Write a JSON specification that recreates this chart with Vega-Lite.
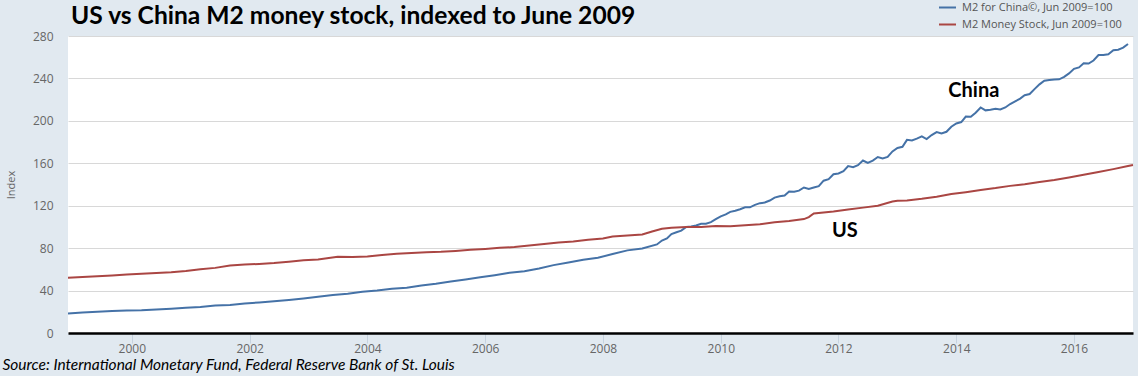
{
  "$schema": "https://vega.github.io/schema/vega-lite/v6.json",
  "width": 1065,
  "height": 297,
  "autosize": {"type": "none"},
  "padding": {"left": 68, "top": 36, "right": 5, "bottom": 43},
  "background": "#e1e9f0",
  "title": {
    "text": "US vs China M2 money stock, indexed to June 2009",
    "anchor": "start",
    "frame": "group",
    "font": "Lato",
    "fontSize": 24.6,
    "fontWeight": "bold",
    "color": "#000000",
    "offset": 4,
    "dx": 3,
    "dy": 36
  },
  "config": {
    "view": {"fill": "#ffffff", "stroke": null}
  },
  "datasets": {
    "m2": [
      {"d": "1998-12-01T00:00", "v": 18.4, "s": "China"},
      {"d": "1999-03-01T00:00", "v": 19.3, "s": "China"},
      {"d": "1999-06-01T00:00", "v": 20.0, "s": "China"},
      {"d": "1999-09-01T00:00", "v": 20.7, "s": "China"},
      {"d": "1999-12-01T00:00", "v": 21.1, "s": "China"},
      {"d": "2000-03-01T00:00", "v": 21.4, "s": "China"},
      {"d": "2000-06-01T00:00", "v": 22.2, "s": "China"},
      {"d": "2000-09-01T00:00", "v": 22.9, "s": "China"},
      {"d": "2000-12-01T00:00", "v": 23.7, "s": "China"},
      {"d": "2001-03-01T00:00", "v": 24.6, "s": "China"},
      {"d": "2001-06-01T00:00", "v": 26.0, "s": "China"},
      {"d": "2001-09-01T00:00", "v": 26.5, "s": "China"},
      {"d": "2001-12-01T00:00", "v": 27.8, "s": "China"},
      {"d": "2002-03-01T00:00", "v": 28.8, "s": "China"},
      {"d": "2002-06-01T00:00", "v": 29.9, "s": "China"},
      {"d": "2002-09-01T00:00", "v": 31.1, "s": "China"},
      {"d": "2002-12-01T00:00", "v": 32.5, "s": "China"},
      {"d": "2003-03-01T00:00", "v": 34.1, "s": "China"},
      {"d": "2003-06-01T00:00", "v": 35.9, "s": "China"},
      {"d": "2003-09-01T00:00", "v": 36.9, "s": "China"},
      {"d": "2003-12-01T00:00", "v": 38.9, "s": "China"},
      {"d": "2004-03-01T00:00", "v": 40.1, "s": "China"},
      {"d": "2004-06-01T00:00", "v": 41.8, "s": "China"},
      {"d": "2004-09-01T00:00", "v": 42.7, "s": "China"},
      {"d": "2004-12-01T00:00", "v": 44.7, "s": "China"},
      {"d": "2005-03-01T00:00", "v": 46.4, "s": "China"},
      {"d": "2005-06-01T00:00", "v": 48.5, "s": "China"},
      {"d": "2005-09-01T00:00", "v": 50.5, "s": "China"},
      {"d": "2005-12-01T00:00", "v": 52.5, "s": "China"},
      {"d": "2006-03-01T00:00", "v": 54.5, "s": "China"},
      {"d": "2006-06-01T00:00", "v": 56.8, "s": "China"},
      {"d": "2006-09-01T00:00", "v": 58.2, "s": "China"},
      {"d": "2006-12-01T00:00", "v": 60.8, "s": "China"},
      {"d": "2007-03-01T00:00", "v": 64.0, "s": "China"},
      {"d": "2007-06-01T00:00", "v": 66.4, "s": "China"},
      {"d": "2007-09-01T00:00", "v": 69.1, "s": "China"},
      {"d": "2007-12-01T00:00", "v": 70.9, "s": "China"},
      {"d": "2008-03-01T00:00", "v": 74.4, "s": "China"},
      {"d": "2008-06-01T00:00", "v": 77.9, "s": "China"},
      {"d": "2008-09-01T00:00", "v": 79.6, "s": "China"},
      {"d": "2008-12-01T00:00", "v": 83.5, "s": "China"},
      {"d": "2009-01-01T00:00", "v": 87.2, "s": "China"},
      {"d": "2009-02-01T00:00", "v": 89.1, "s": "China"},
      {"d": "2009-03-01T00:00", "v": 93.3, "s": "China"},
      {"d": "2009-04-01T00:00", "v": 95.0, "s": "China"},
      {"d": "2009-05-01T00:00", "v": 96.5, "s": "China"},
      {"d": "2009-06-01T00:00", "v": 100.0, "s": "China"},
      {"d": "2009-07-01T00:00", "v": 100.4, "s": "China"},
      {"d": "2009-08-01T00:00", "v": 101.3, "s": "China"},
      {"d": "2009-09-01T00:00", "v": 102.9, "s": "China"},
      {"d": "2009-10-01T00:00", "v": 103.0, "s": "China"},
      {"d": "2009-11-01T00:00", "v": 104.5, "s": "China"},
      {"d": "2009-12-01T00:00", "v": 107.3, "s": "China"},
      {"d": "2010-01-01T00:00", "v": 109.9, "s": "China"},
      {"d": "2010-02-01T00:00", "v": 111.8, "s": "China"},
      {"d": "2010-03-01T00:00", "v": 114.2, "s": "China"},
      {"d": "2010-04-01T00:00", "v": 115.3, "s": "China"},
      {"d": "2010-05-01T00:00", "v": 116.7, "s": "China"},
      {"d": "2010-06-01T00:00", "v": 118.5, "s": "China"},
      {"d": "2010-07-01T00:00", "v": 118.5, "s": "China"},
      {"d": "2010-08-01T00:00", "v": 120.8, "s": "China"},
      {"d": "2010-09-01T00:00", "v": 122.4, "s": "China"},
      {"d": "2010-10-01T00:00", "v": 123.0, "s": "China"},
      {"d": "2010-11-01T00:00", "v": 124.9, "s": "China"},
      {"d": "2010-12-01T00:00", "v": 127.6, "s": "China"},
      {"d": "2011-01-01T00:00", "v": 128.9, "s": "China"},
      {"d": "2011-02-01T00:00", "v": 129.6, "s": "China"},
      {"d": "2011-03-01T00:00", "v": 133.3, "s": "China"},
      {"d": "2011-04-01T00:00", "v": 133.2, "s": "China"},
      {"d": "2011-05-01T00:00", "v": 134.2, "s": "China"},
      {"d": "2011-06-01T00:00", "v": 137.2, "s": "China"},
      {"d": "2011-07-01T00:00", "v": 135.9, "s": "China"},
      {"d": "2011-08-01T00:00", "v": 137.2, "s": "China"},
      {"d": "2011-09-01T00:00", "v": 138.4, "s": "China"},
      {"d": "2011-10-01T00:00", "v": 143.6, "s": "China"},
      {"d": "2011-11-01T00:00", "v": 145.1, "s": "China"},
      {"d": "2011-12-01T00:00", "v": 149.7, "s": "China"},
      {"d": "2012-01-01T00:00", "v": 150.4, "s": "China"},
      {"d": "2012-02-01T00:00", "v": 152.5, "s": "China"},
      {"d": "2012-03-01T00:00", "v": 157.4, "s": "China"},
      {"d": "2012-04-01T00:00", "v": 156.4, "s": "China"},
      {"d": "2012-05-01T00:00", "v": 158.2, "s": "China"},
      {"d": "2012-06-01T00:00", "v": 162.6, "s": "China"},
      {"d": "2012-07-01T00:00", "v": 160.3, "s": "China"},
      {"d": "2012-08-01T00:00", "v": 162.6, "s": "China"},
      {"d": "2012-09-01T00:00", "v": 165.9, "s": "China"},
      {"d": "2012-10-01T00:00", "v": 164.6, "s": "China"},
      {"d": "2012-11-01T00:00", "v": 166.0, "s": "China"},
      {"d": "2012-12-01T00:00", "v": 171.2, "s": "China"},
      {"d": "2013-01-01T00:00", "v": 174.4, "s": "China"},
      {"d": "2013-02-01T00:00", "v": 175.5, "s": "China"},
      {"d": "2013-03-01T00:00", "v": 182.1, "s": "China"},
      {"d": "2013-04-01T00:00", "v": 181.5, "s": "China"},
      {"d": "2013-05-01T00:00", "v": 183.2, "s": "China"},
      {"d": "2013-06-01T00:00", "v": 185.4, "s": "China"},
      {"d": "2013-07-01T00:00", "v": 182.8, "s": "China"},
      {"d": "2013-08-01T00:00", "v": 186.6, "s": "China"},
      {"d": "2013-09-01T00:00", "v": 189.4, "s": "China"},
      {"d": "2013-10-01T00:00", "v": 188.1, "s": "China"},
      {"d": "2013-11-01T00:00", "v": 189.7, "s": "China"},
      {"d": "2013-12-01T00:00", "v": 194.5, "s": "China"},
      {"d": "2014-01-01T00:00", "v": 197.5, "s": "China"},
      {"d": "2014-02-01T00:00", "v": 198.9, "s": "China"},
      {"d": "2014-03-01T00:00", "v": 204.0, "s": "China"},
      {"d": "2014-04-01T00:00", "v": 203.9, "s": "China"},
      {"d": "2014-05-01T00:00", "v": 207.7, "s": "China"},
      {"d": "2014-06-01T00:00", "v": 212.6, "s": "China"},
      {"d": "2014-07-01T00:00", "v": 209.9, "s": "China"},
      {"d": "2014-08-01T00:00", "v": 210.4, "s": "China"},
      {"d": "2014-09-01T00:00", "v": 211.3, "s": "China"},
      {"d": "2014-10-01T00:00", "v": 210.7, "s": "China"},
      {"d": "2014-11-01T00:00", "v": 212.6, "s": "China"},
      {"d": "2014-12-01T00:00", "v": 215.9, "s": "China"},
      {"d": "2015-01-01T00:00", "v": 218.4, "s": "China"},
      {"d": "2015-02-01T00:00", "v": 221.0, "s": "China"},
      {"d": "2015-03-01T00:00", "v": 224.2, "s": "China"},
      {"d": "2015-04-01T00:00", "v": 225.3, "s": "China"},
      {"d": "2015-05-01T00:00", "v": 229.9, "s": "China"},
      {"d": "2015-06-01T00:00", "v": 234.4, "s": "China"},
      {"d": "2015-07-01T00:00", "v": 237.8, "s": "China"},
      {"d": "2015-08-01T00:00", "v": 238.5, "s": "China"},
      {"d": "2015-09-01T00:00", "v": 239.0, "s": "China"},
      {"d": "2015-10-01T00:00", "v": 239.2, "s": "China"},
      {"d": "2015-11-01T00:00", "v": 241.5, "s": "China"},
      {"d": "2015-12-01T00:00", "v": 244.7, "s": "China"},
      {"d": "2016-01-01T00:00", "v": 249.0, "s": "China"},
      {"d": "2016-02-01T00:00", "v": 250.4, "s": "China"},
      {"d": "2016-03-01T00:00", "v": 254.2, "s": "China"},
      {"d": "2016-04-01T00:00", "v": 254.0, "s": "China"},
      {"d": "2016-05-01T00:00", "v": 256.9, "s": "China"},
      {"d": "2016-06-01T00:00", "v": 262.0, "s": "China"},
      {"d": "2016-07-01T00:00", "v": 262.2, "s": "China"},
      {"d": "2016-08-01T00:00", "v": 262.8, "s": "China"},
      {"d": "2016-09-01T00:00", "v": 266.5, "s": "China"},
      {"d": "2016-10-01T00:00", "v": 267.1, "s": "China"},
      {"d": "2016-11-01T00:00", "v": 269.0, "s": "China"},
      {"d": "2016-12-01T00:00", "v": 272.5, "s": "China"},
      {"d": "1998-12-01T00:00", "v": 52.0, "s": "US"},
      {"d": "1999-03-01T00:00", "v": 52.7, "s": "US"},
      {"d": "1999-06-01T00:00", "v": 53.5, "s": "US"},
      {"d": "1999-09-01T00:00", "v": 54.2, "s": "US"},
      {"d": "1999-12-01T00:00", "v": 55.1, "s": "US"},
      {"d": "2000-03-01T00:00", "v": 55.8, "s": "US"},
      {"d": "2000-06-01T00:00", "v": 56.5, "s": "US"},
      {"d": "2000-09-01T00:00", "v": 57.3, "s": "US"},
      {"d": "2000-12-01T00:00", "v": 58.4, "s": "US"},
      {"d": "2001-03-01T00:00", "v": 60.0, "s": "US"},
      {"d": "2001-06-01T00:00", "v": 61.4, "s": "US"},
      {"d": "2001-09-01T00:00", "v": 63.6, "s": "US"},
      {"d": "2001-12-01T00:00", "v": 64.5, "s": "US"},
      {"d": "2002-03-01T00:00", "v": 65.1, "s": "US"},
      {"d": "2002-06-01T00:00", "v": 65.9, "s": "US"},
      {"d": "2002-09-01T00:00", "v": 67.2, "s": "US"},
      {"d": "2002-12-01T00:00", "v": 68.5, "s": "US"},
      {"d": "2003-03-01T00:00", "v": 69.4, "s": "US"},
      {"d": "2003-07-01T00:00", "v": 71.8, "s": "US"},
      {"d": "2003-10-01T00:00", "v": 71.7, "s": "US"},
      {"d": "2004-01-01T00:00", "v": 72.1, "s": "US"},
      {"d": "2004-04-01T00:00", "v": 73.6, "s": "US"},
      {"d": "2004-07-01T00:00", "v": 74.6, "s": "US"},
      {"d": "2004-10-01T00:00", "v": 75.4, "s": "US"},
      {"d": "2005-01-01T00:00", "v": 76.2, "s": "US"},
      {"d": "2005-04-01T00:00", "v": 76.5, "s": "US"},
      {"d": "2005-07-01T00:00", "v": 77.3, "s": "US"},
      {"d": "2005-10-01T00:00", "v": 78.4, "s": "US"},
      {"d": "2006-01-01T00:00", "v": 79.3, "s": "US"},
      {"d": "2006-04-01T00:00", "v": 80.3, "s": "US"},
      {"d": "2006-07-01T00:00", "v": 81.0, "s": "US"},
      {"d": "2006-10-01T00:00", "v": 82.4, "s": "US"},
      {"d": "2007-01-01T00:00", "v": 84.0, "s": "US"},
      {"d": "2007-04-01T00:00", "v": 85.3, "s": "US"},
      {"d": "2007-07-01T00:00", "v": 86.3, "s": "US"},
      {"d": "2007-10-01T00:00", "v": 87.8, "s": "US"},
      {"d": "2008-01-01T00:00", "v": 89.0, "s": "US"},
      {"d": "2008-03-01T00:00", "v": 91.0, "s": "US"},
      {"d": "2008-06-01T00:00", "v": 91.9, "s": "US"},
      {"d": "2008-09-01T00:00", "v": 92.8, "s": "US"},
      {"d": "2008-11-01T00:00", "v": 95.7, "s": "US"},
      {"d": "2009-01-01T00:00", "v": 98.3, "s": "US"},
      {"d": "2009-03-01T00:00", "v": 99.3, "s": "US"},
      {"d": "2009-06-01T00:00", "v": 100.0, "s": "US"},
      {"d": "2009-09-01T00:00", "v": 99.9, "s": "US"},
      {"d": "2009-12-01T00:00", "v": 100.9, "s": "US"},
      {"d": "2010-03-01T00:00", "v": 100.7, "s": "US"},
      {"d": "2010-06-01T00:00", "v": 101.6, "s": "US"},
      {"d": "2010-09-01T00:00", "v": 102.6, "s": "US"},
      {"d": "2010-12-01T00:00", "v": 104.4, "s": "US"},
      {"d": "2011-03-01T00:00", "v": 105.6, "s": "US"},
      {"d": "2011-06-01T00:00", "v": 107.4, "s": "US"},
      {"d": "2011-07-01T00:00", "v": 109.3, "s": "US"},
      {"d": "2011-08-01T00:00", "v": 112.7, "s": "US"},
      {"d": "2011-12-01T00:00", "v": 114.6, "s": "US"},
      {"d": "2012-03-01T00:00", "v": 116.5, "s": "US"},
      {"d": "2012-06-01T00:00", "v": 118.2, "s": "US"},
      {"d": "2012-09-01T00:00", "v": 120.0, "s": "US"},
      {"d": "2012-12-01T00:00", "v": 124.0, "s": "US"},
      {"d": "2013-01-01T00:00", "v": 124.7, "s": "US"},
      {"d": "2013-03-01T00:00", "v": 125.0, "s": "US"},
      {"d": "2013-06-01T00:00", "v": 126.5, "s": "US"},
      {"d": "2013-09-01T00:00", "v": 128.4, "s": "US"},
      {"d": "2013-12-01T00:00", "v": 131.0, "s": "US"},
      {"d": "2014-03-01T00:00", "v": 132.8, "s": "US"},
      {"d": "2014-06-01T00:00", "v": 134.9, "s": "US"},
      {"d": "2014-09-01T00:00", "v": 136.6, "s": "US"},
      {"d": "2014-12-01T00:00", "v": 138.7, "s": "US"},
      {"d": "2015-03-01T00:00", "v": 140.3, "s": "US"},
      {"d": "2015-06-01T00:00", "v": 142.4, "s": "US"},
      {"d": "2015-09-01T00:00", "v": 144.3, "s": "US"},
      {"d": "2015-12-01T00:00", "v": 146.7, "s": "US"},
      {"d": "2016-03-01T00:00", "v": 149.2, "s": "US"},
      {"d": "2016-06-01T00:00", "v": 151.8, "s": "US"},
      {"d": "2016-09-01T00:00", "v": 154.5, "s": "US"},
      {"d": "2016-12-01T00:00", "v": 157.4, "s": "US"},
      {"d": "2017-01-01T00:00", "v": 158.3, "s": "US"}
    ],
    "notes": [
      {"d": "2014-04-20T00:00", "v": 228.6, "t": "China"},
      {"d": "2012-02-10T00:00", "v": 96.6, "t": "US"}
    ]
  },
  "encoding": {
    "x": {
      "field": "d",
      "type": "temporal",
      "scale": {"domain": [{"year": 1998, "month": 12, "date": 1}, {"year": 2017, "month": 1, "date": 1}], "nice": false},
      "axis": {
        "values": [{"year": 2000}, {"year": 2002}, {"year": 2004}, {"year": 2006}, {"year": 2008}, {"year": 2010}, {"year": 2012}, {"year": 2014}, {"year": 2016}],
        "format": "%Y",
        "grid": false,
        "domain": true,
        "domainColor": "#000000",
        "domainWidth": 2.5,
        "ticks": true,
        "tickColor": "#c6d2de",
        "tickSize": 10,
        "labelPadding": 0,
        "labelFont": "Open Sans",
        "labelFontSize": 12,
        "labelColor": "#666666",
        "title": "Source: International Monetary Fund, Federal Reserve Bank of St. Louis",
        "titleFont": "Lato",
        "titleFontStyle": "italic",
        "titleFontWeight": "normal",
        "titleFontSize": 15.5,
        "titleColor": "#000000",
        "titleAnchor": "start",
        "titleAlign": "left",
        "titleBaseline": "middle",
        "titleX": -66,
        "titleY": 31
      }
    },
    "y": {
      "field": "v",
      "type": "quantitative",
      "scale": {"domain": [0, 280], "nice": false},
      "axis": {
        "values": [0, 40, 80, 120, 160, 200, 240, 280],
        "grid": true,
        "gridColor": "#d8d8d8",
        "gridWidth": 1,
        "domain": false,
        "ticks": false,
        "labelPadding": 15,
        "labelFont": "Open Sans",
        "labelFontSize": 12,
        "labelColor": "#666666",
        "title": "Index",
        "titleFont": "Open Sans",
        "titleFontSize": 11,
        "titleFontWeight": "normal",
        "titleColor": "#666666",
        "titlePadding": 16
      }
    }
  },
  "layer": [
    {
      "data": {"name": "m2"},
      "mark": {"type": "line", "strokeWidth": 2},
      "encoding": {
        "color": {
          "field": "s",
          "type": "nominal",
          "scale": {"domain": ["China", "US"], "range": ["#4572a7", "#aa4643"]},
          "legend": {
            "orient": "none",
            "legendX": 870,
            "legendY": -38,
            "title": null,
            "symbolType": "stroke",
            "symbolSize": 289,
            "symbolStrokeWidth": 2,
            "labelFont": "Open Sans",
            "labelFontSize": 11,
            "labelColor": "#555555",
            "labelLimit": 400,
            "labelOffset": 5,
            "rowPadding": 2,
            "labelExpr": "datum.label == 'China' ? 'M2 for China©, Jun 2009=100' : 'M2 Money Stock, Jun 2009=100'"
          }
        }
      }
    },
    {
      "data": {"name": "notes"},
      "mark": {"type": "text", "font": "Lato", "fontWeight": "bold", "fontSize": 20, "align": "center", "baseline": "middle", "color": "#000000"},
      "encoding": {
        "text": {"field": "t", "type": "nominal"}
      }
    }
  ]
}
